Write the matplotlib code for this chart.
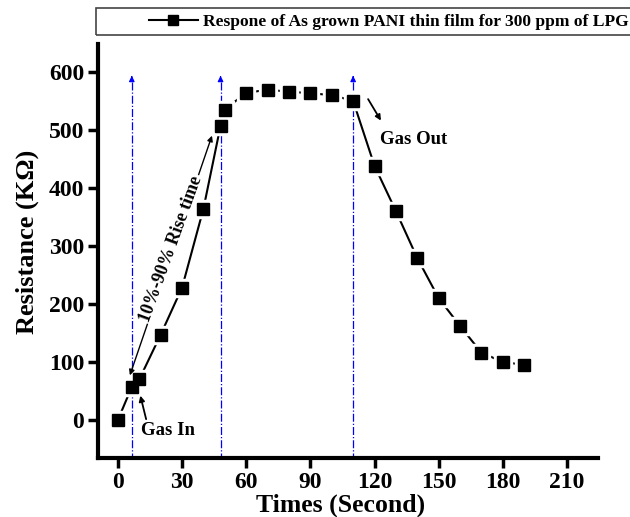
import matplotlib
matplotlib.use("Agg")
import matplotlib.pyplot as plt
from matplotlib.lines import Line2D
from matplotlib.patches import Rectangle

# data
times = [0, 6.5, 10, 20, 30, 40, 48, 50, 60, 70, 80, 90, 100, 110,
         120, 130, 140, 150, 160, 170, 180, 190]
resistance = [0, 57, 70, 147, 228, 364, 507, 535, 564, 569, 566, 563, 560, 550,
              438, 360, 279, 210, 162, 116, 100, 95]
marker_lines = [6.5, 48, 110]  # gas in / 90% / gas out
x_ticks = [0, 30, 60, 90, 120, 150, 180, 210]
y_ticks = [0, 100, 200, 300, 400, 500, 600]
legend_label = "Respone of As grown PANI thin film for 300 ppm of LPG"

plt.rcParams['font.family'] = ['Liberation Serif', 'DejaVu Serif']
plt.rcParams['font.weight'] = 'bold'

fig = plt.figure(figsize=(6.3, 5.17), dpi=100)
ax = fig.add_axes([98 / 630, 1 - 458 / 517, 500 / 630, 414 / 517])

# dash-dot blue guide lines with small arrow heads on top
for xv in marker_lines:
    ax.plot([xv, xv], [-70, 590], color='blue', lw=0.9, ls='-.', zorder=1)
    ax.annotate('', xy=(xv, 598), xytext=(xv, 585),
                arrowprops=dict(arrowstyle='-|>', color='blue', lw=0.9,
                                mutation_scale=8))

# curve: line, white halo around markers, black markers
ax.plot(times, resistance, '-', color='black', lw=1.5, zorder=2)
ax.plot(times, resistance, 's', color='white', ms=13, zorder=3)
ax.plot(times, resistance, 's', color='black', ms=8.5, zorder=4)

# annotations
ax.annotate('Gas In', xy=(10.5, 42), xytext=(11, -18), fontsize=13.5,
            fontweight='bold', ha='left', va='center',
            arrowprops=dict(arrowstyle='-|>', color='black', lw=1.3,
                            mutation_scale=8, shrinkA=0, shrinkB=0,
                            relpos=(0.1, 1.0)))
ax.text(122.5, 483, 'Gas Out', fontsize=13.5, fontweight='bold',
        ha='left', va='center')
ax.annotate('', xy=(123, 516), xytext=(117, 553),
            arrowprops=dict(arrowstyle='-|>', color='black', lw=1.3,
                            mutation_scale=8, shrinkA=0, shrinkB=0))

# rise time double arrow with text over it
ax.annotate('', xy=(44, 490), xytext=(5.6, 77),
            arrowprops=dict(arrowstyle='<|-|>', color='black', lw=1.0,
                            mutation_scale=8, shrinkA=0, shrinkB=0))
ax.text(25, 295, '10%-90% Rise time', rotation=70, fontsize=13,
        fontweight='bold', ha='center', va='center',
        bbox=dict(facecolor='white', edgecolor='none', pad=1))

ax.set_xlim(-9.3, 224.5)
ax.set_ylim(-65.5, 648)
ax.set_xticks(x_ticks)
ax.set_yticks(y_ticks)
ax.tick_params(direction='out', length=7, width=2.5, labelsize=17, pad=3)
for lab in ax.get_xticklabels() + ax.get_yticklabels():
    lab.set_fontweight('bold')

for side in ['top', 'right']:
    ax.spines[side].set_visible(False)
for side in ['left', 'bottom']:
    ax.spines[side].set_linewidth(3)

ax.set_xlabel('Times (Second)', fontsize=18.5, fontweight='bold', va='center')
ax.set_ylabel('Resistance (K\u03a9)', fontsize=19, fontweight='bold', va='center')
ax.xaxis.set_label_coords((341 - 98) / 500, (458 - 505) / 414)
ax.yaxis.set_label_coords((27 - 98) / 500, (458 - 242) / 414)

# legend box at top
fig.patches.append(Rectangle((96 / 630, 1 - 35 / 517), 540 / 630, 27 / 517,
                             transform=fig.transFigure, fill=False,
                             edgecolor='#444444', lw=1.2))
handle = Line2D([], [], color='black', marker='s', ms=7, lw=1.5)
fig.legend([handle], [legend_label], loc='center right',
           bbox_to_anchor=(1.023, 1 - 21.5 / 517), frameon=False,
           prop=dict(size=12.6, weight='bold'), handlelength=2.8,
           handletextpad=0.3)

fig.savefig('out.png', dpi=100)
